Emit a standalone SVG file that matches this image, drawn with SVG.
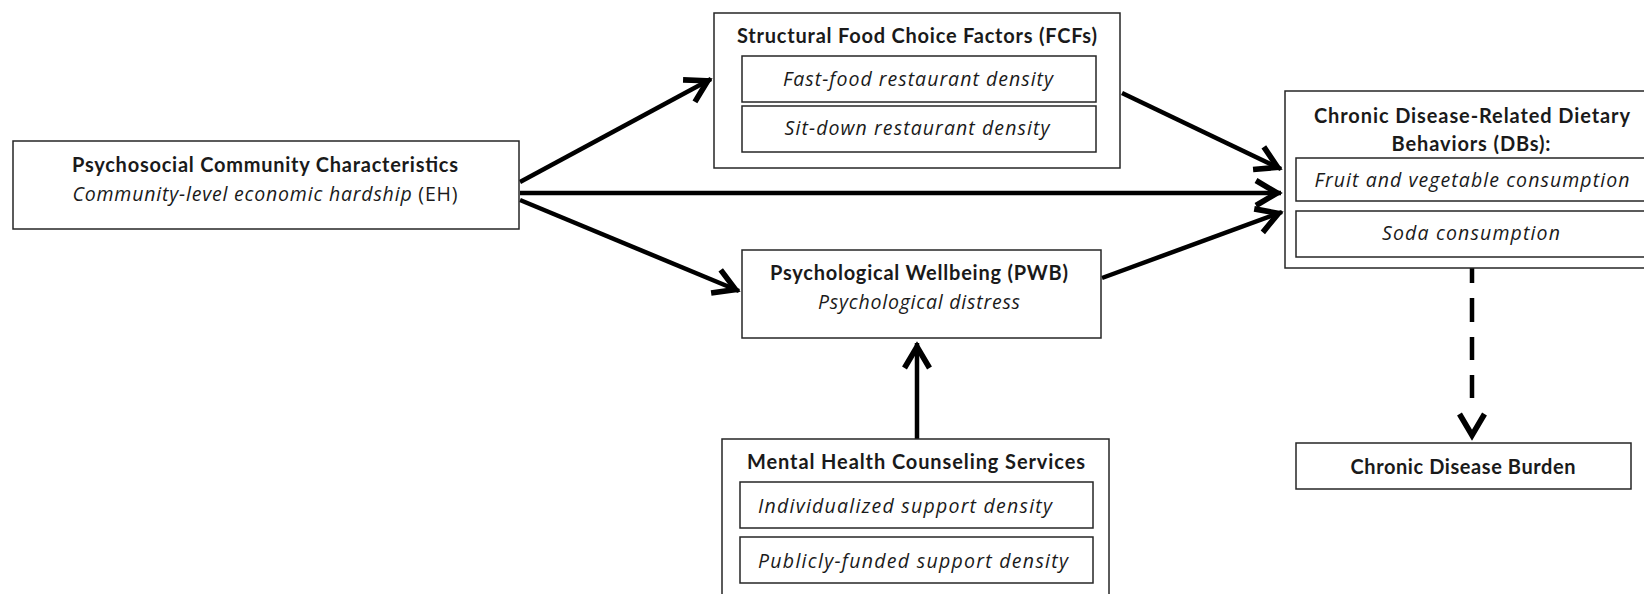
<svg xmlns="http://www.w3.org/2000/svg" width="1644" height="594" viewBox="0 0 1644 594">
<style>
  .box { fill: #ffffff; stroke: #262626; stroke-width: 1.5; }
  .t { font-family: Lato, "Liberation Sans", sans-serif; font-size: 20px; fill: #1a1a1a; }
  .b { font-weight: bold; }
  .i { font-family: "Open Sans", "Liberation Sans", sans-serif; font-style: italic; font-size: 19.5px; }
  .r { font-family: "Open Sans", "Liberation Sans", sans-serif; font-size: 19.5px; fill: #1a1a1a; }
  .c { text-anchor: middle; }
  .conn { stroke: #000000; stroke-width: 4.5; fill: none; marker-end: url(#arr); }
</style>
<defs>
  <marker id="arr" markerUnits="userSpaceOnUse" markerWidth="40" markerHeight="40" refX="3" refY="0" viewBox="-24 -14 32 28" orient="auto" overflow="visible">
    <path d="M-17,-10 L0,0 L-17,10" fill="none" stroke="#000000" stroke-width="4.5" stroke-linejoin="miter"/>
  </marker>
</defs>
<rect width="1644" height="594" fill="#ffffff"/>

<g id="connectors">
  <path class="conn" d="M520,182 L711,79"/>
  <path class="conn" d="M520,193 L1281,193"/>
  <path class="conn" d="M520,200 L739,291"/>
  <path class="conn" d="M1122,93 L1281,169"/>
  <path class="conn" d="M1102,278 L1282,212"/>
  <path class="conn" d="M917,439 L917,343"/>
  <path class="conn" d="M1472,267 L1472,439" stroke-dasharray="16 15 24 15 23 15 23 60"/>
</g>

<g id="node-eh">
  <rect class="box" x="13" y="141" width="506" height="88"/>
  <text class="t b c" x="265" y="172" textLength="386">Psychosocial Community Characteristics</text>
  <text class="r c" x="265" y="201" textLength="385"><tspan class="i">Community-level economic hardship</tspan> (EH)</text>
</g>

<g id="node-fcf">
  <rect class="box" x="714" y="13" width="406" height="155"/>
  <text class="t b c" x="917" y="43" textLength="360">Structural Food Choice Factors (FCFs)</text>
  <rect class="box" x="742" y="56" width="354" height="46"/>
  <text class="t i c" x="918" y="86" textLength="270">Fast-food restaurant density</text>
  <rect class="box" x="742" y="106" width="354" height="46"/>
  <text class="t i c" x="917" y="135" textLength="265">Sit-down restaurant density</text>
</g>

<g id="node-db">
  <rect class="box" x="1285" y="91" width="380" height="177"/>
  <text class="t b c" x="1472" y="123" textLength="316">Chronic Disease-Related Dietary</text>
  <text class="t b c" x="1471" y="151" textLength="159">Behaviors (DBs):</text>
  <rect class="box" x="1296" y="158" width="360" height="43"/>
  <text class="t i c" x="1472" y="187" textLength="315">Fruit and vegetable consumption</text>
  <rect class="box" x="1296" y="211" width="360" height="46"/>
  <text class="t i c" x="1471" y="240" textLength="178">Soda consumption</text>
</g>

<g id="node-pwb">
  <rect class="box" x="742" y="250" width="359" height="88"/>
  <text class="t b c" x="919" y="280" textLength="298">Psychological Wellbeing (PWB)</text>
  <text class="t i c" x="919" y="309" textLength="202">Psychological distress</text>
</g>

<g id="node-mhcs">
  <rect class="box" x="722" y="439" width="387" height="170"/>
  <text class="t b c" x="916" y="469" textLength="338">Mental Health Counseling Services</text>
  <rect class="box" x="740" y="482" width="353" height="46"/>
  <text class="t i" x="758" y="513" textLength="294">Individualized support density</text>
  <rect class="box" x="740" y="537" width="353" height="46"/>
  <text class="t i" x="758" y="568" textLength="310">Publicly-funded support density</text>
</g>

<g id="node-cdb">
  <rect class="box" x="1296" y="443" width="335" height="46"/>
  <text class="t b c" x="1463" y="474" textLength="225">Chronic Disease Burden</text>
</g>
</svg>
